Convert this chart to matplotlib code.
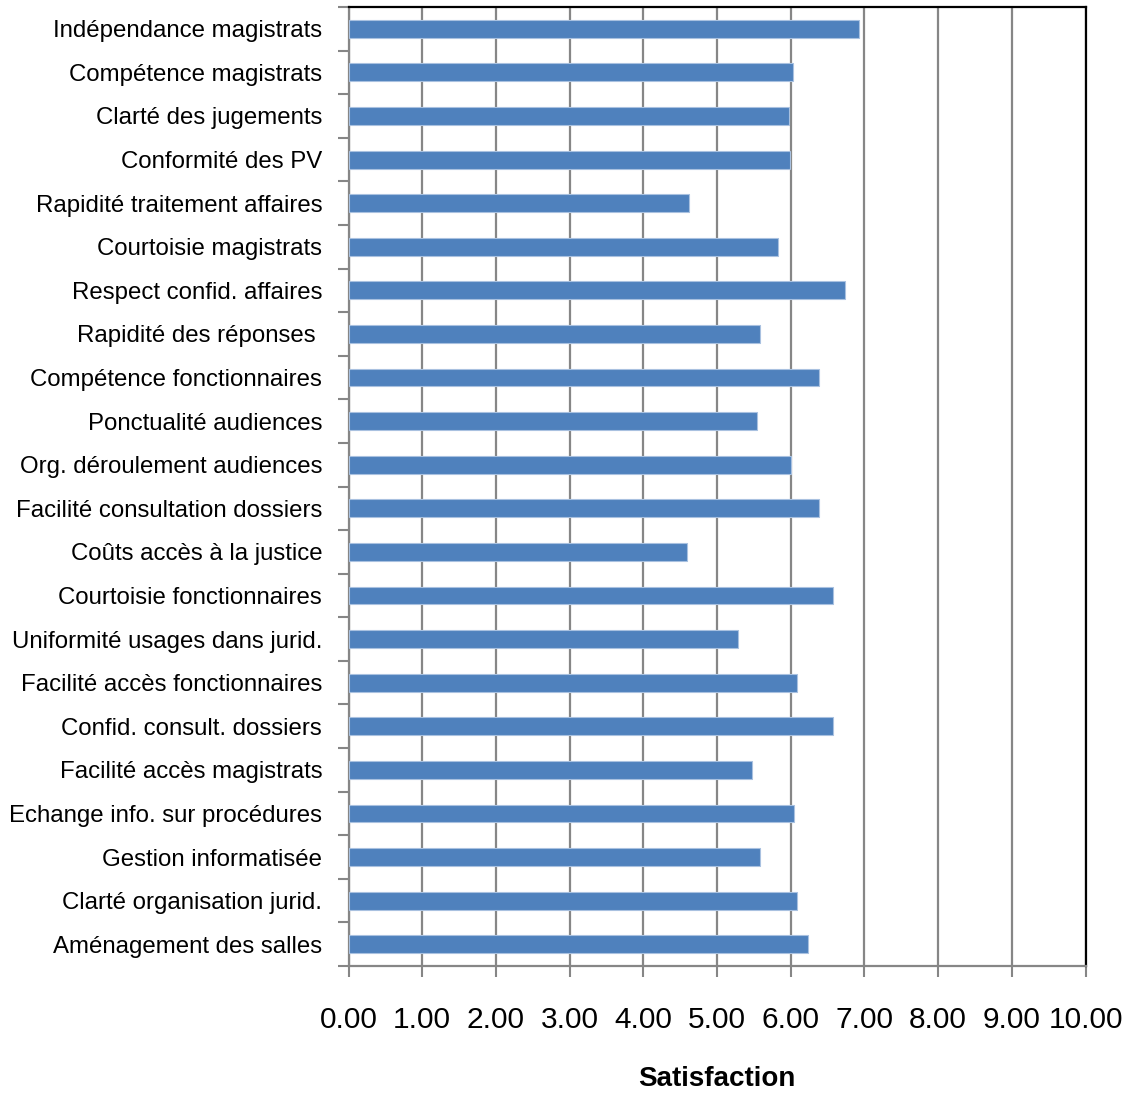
import matplotlib
matplotlib.use("Agg")
import matplotlib.pyplot as plt
import numpy as np

plt.rcParams['font.family'] = ['Liberation Sans', 'DejaVu Sans']

categories = [
    "Indépendance magistrats",
    "Compétence magistrats",
    "Clarté des jugements",
    "Conformité des PV",
    "Rapidité traitement affaires",
    "Courtoisie magistrats",
    "Respect confid. affaires",
    "Rapidité des réponses ",
    "Compétence fonctionnaires",
    "Ponctualité audiences",
    "Org. déroulement audiences",
    "Facilité consultation dossiers",
    "Coûts accès à la justice",
    "Courtoisie fonctionnaires",
    "Uniformité usages dans jurid.",
    "Facilité accès fonctionnaires",
    "Confid. consult. dossiers",
    "Facilité accès magistrats",
    "Echange info. sur procédures",
    "Gestion informatisée",
    "Clarté organisation jurid.",
    "Aménagement des salles",
]
values = [6.93, 6.03, 5.98, 5.99, 4.62, 5.83, 6.74, 5.58, 6.38, 5.54, 6.00,
          6.39, 4.59, 6.58, 5.28, 6.08, 6.57, 5.48, 6.05, 5.58, 6.08, 6.23]
xticks = [0, 1, 2, 3, 4, 5, 6, 7, 8, 9, 10]
xticklabels = ["0.00", "1.00", "2.00", "3.00", "4.00", "5.00",
               "6.00", "7.00", "8.00", "9.00", "10.00"]

fig = plt.figure(figsize=(11.29, 10.95), dpi=100)
ax = fig.add_axes([0.3087, 0.1178, 0.6528, 0.8758])

y = np.arange(len(categories))
ax.barh(y, values, height=0.41, color="#4F81BD", edgecolor="#A9C1E0",
        linewidth=0.8, zorder=3)

ax.set_xlim(0, 10)
ax.set_ylim(len(categories) - 0.5, -0.5)

ax.set_xticks(xticks)
ax.set_xticklabels(xticklabels, fontsize=21.5)
ax.tick_params(axis='x', direction='out', length=8, width=1.5,
               color="#868686", pad=21)

ax.set_yticks(np.arange(len(categories) + 1) - 0.5)
ax.set_yticklabels([])
ax.tick_params(axis='y', which='major', direction='out', length=8, width=1.5,
               color="#868686")
ax.set_yticks(y, minor=True)
ax.set_yticklabels(categories, minor=True, fontsize=17.3)
ax.tick_params(axis='y', which='minor', length=0, pad=19)

ax.grid(axis='x', color="#868686", linewidth=1.6, zorder=1)
ax.grid(axis='y', visible=False)

ax.spines['left'].set_color("#868686")
ax.spines['bottom'].set_color("#868686")
ax.spines['left'].set_linewidth(1.6)
ax.spines['bottom'].set_linewidth(1.6)
ax.spines['top'].set_color("black")
ax.spines['right'].set_color("black")
ax.spines['top'].set_linewidth(1.6)
ax.spines['right'].set_linewidth(1.6)

ax.set_xlabel("Satisfaction", fontsize=20, fontweight='bold', labelpad=23)

fig.savefig("out.png", dpi=100)
